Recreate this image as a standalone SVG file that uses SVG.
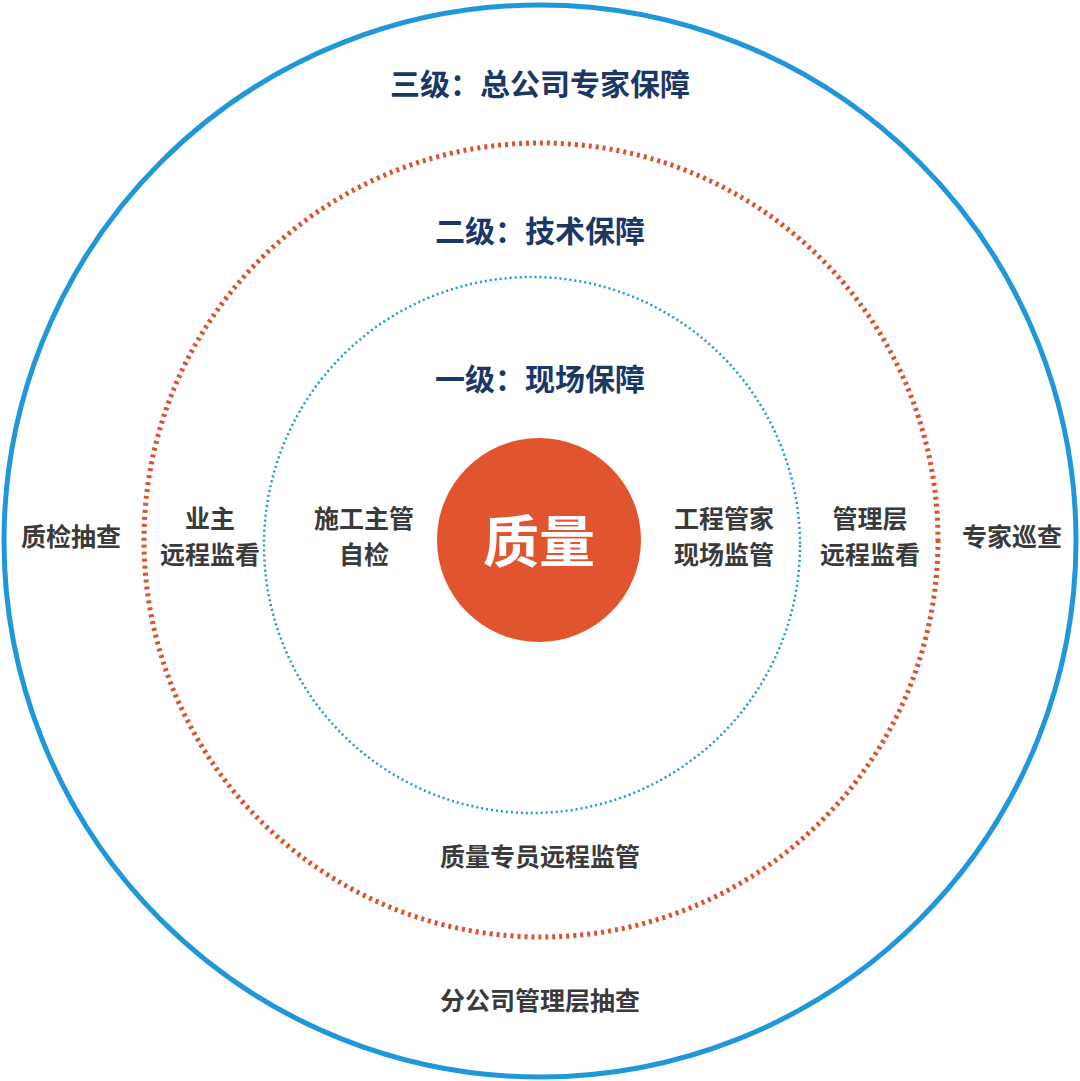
<svg xmlns="http://www.w3.org/2000/svg" width="1080" height="1081" viewBox="0 0 1080 1081">
<style>
.t{font-family:"Noto Sans CJK SC","Noto Sans",sans-serif;font-weight:bold;text-anchor:middle}
.h{fill:#1c3764;font-size:30px}
.g{fill:#3a3a3a;font-size:25px}
</style>
<rect width="1080" height="1081" fill="#fff"/>
<g id="connectors"></g>
<g id="ring3"><circle cx="540" cy="541" r="536" fill="none" stroke="#1f97d8" stroke-width="5"/></g>
<g id="ring2"><circle cx="541" cy="540" r="397" fill="none" stroke="#d9542d" stroke-width="5" stroke-dasharray="3 4"/></g>
<g id="ring1"><circle cx="532" cy="545" r="268" fill="none" stroke="#1f97d8" stroke-width="2.5" stroke-dasharray="2 3"/></g>
<g id="core"><circle cx="539" cy="540" r="102" fill="#e05530"/>
<text class="t" x="539" y="562" fill="#fff" font-size="56" font-weight="normal">质量</text></g>
<g id="l3"><text class="t h" x="540" y="95">三级：总公司专家保障</text></g>
<g id="l2"><text class="t h" x="540" y="242">二级：技术保障</text></g>
<g id="l1"><text class="t h" x="540" y="390">一级：现场保障</text></g>
<g id="n1"><text class="t g" x="71" y="546">质检抽查</text></g>
<g id="n2"><text class="t g" x="210" y="528">业主</text><text class="t g" x="210" y="564">远程监看</text></g>
<g id="n3"><text class="t g" x="364" y="528">施工主管</text><text class="t g" x="364" y="564">自检</text></g>
<g id="n4"><text class="t g" x="724" y="528">工程管家</text><text class="t g" x="724" y="564">现场监管</text></g>
<g id="n5"><text class="t g" x="870" y="528">管理层</text><text class="t g" x="870" y="564">远程监看</text></g>
<g id="n6"><text class="t g" x="1012" y="546">专家巡查</text></g>
<g id="n7"><text class="t g" x="540" y="866">质量专员远程监管</text></g>
<g id="n8"><text class="t g" x="540" y="1010">分公司管理层抽查</text></g>
</svg>
